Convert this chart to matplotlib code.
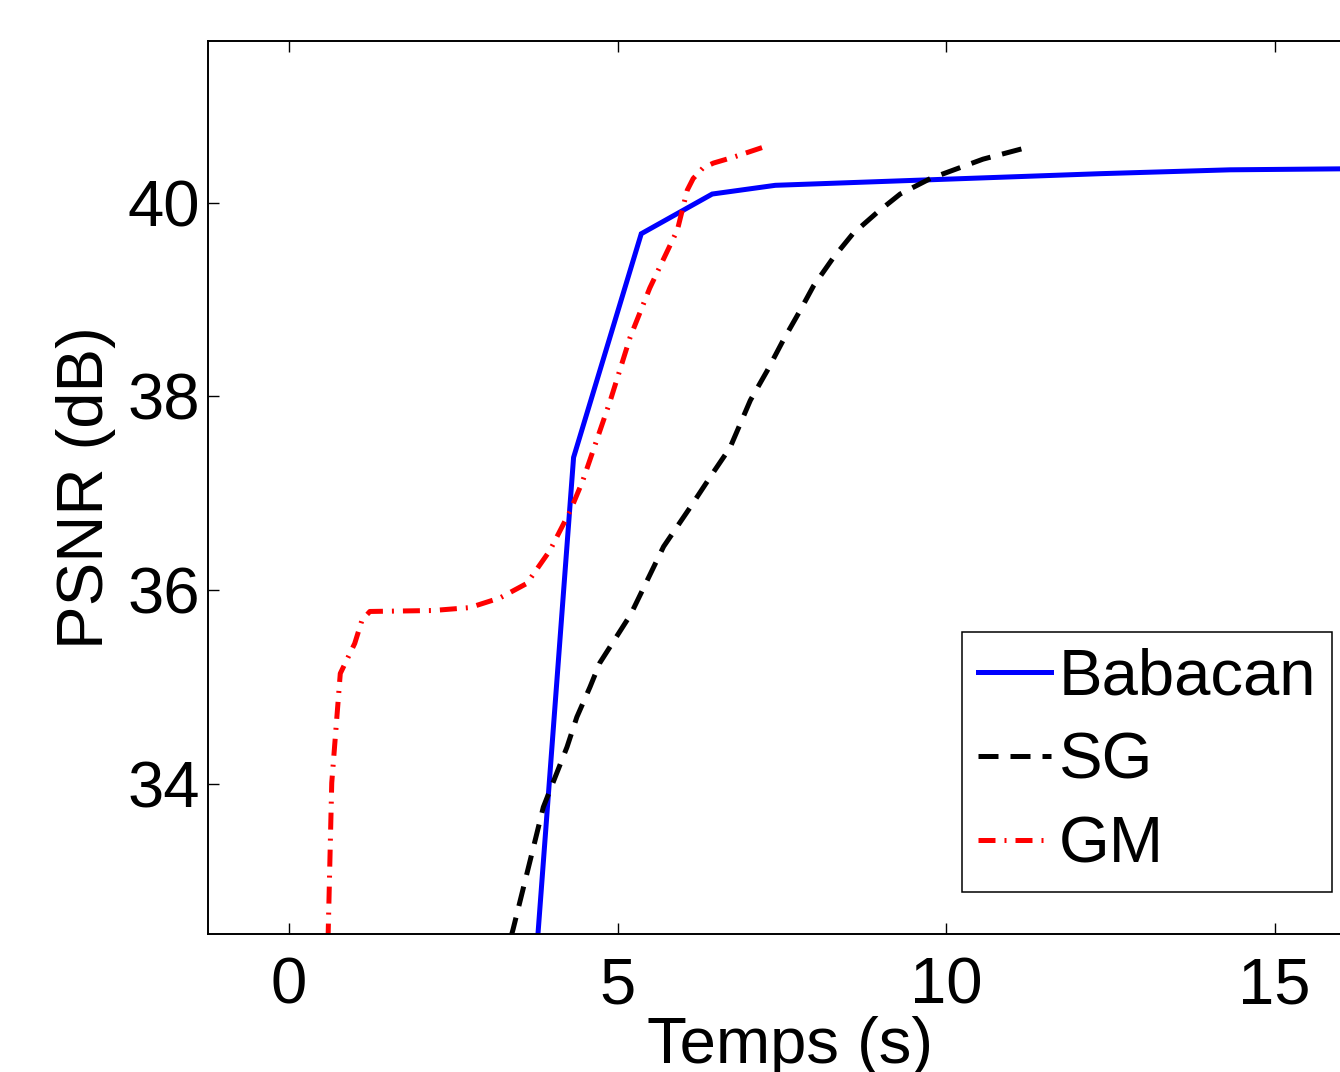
"""PSNR vs. time for Babacan, SG and GM reconstructions."""

import matplotlib

matplotlib.use("Agg")
import matplotlib.pyplot as plt

# Babacan (solid blue)
babacan_t = [3.72, 4.33, 5.36, 6.44, 7.40, 12.34, 14.32, 16.0, 16.5]
babacan_psnr = [31.83, 37.37, 39.68, 40.09, 40.18, 40.30, 40.34, 40.35, 40.36]

# SG (dashed black)
sg_t = [3.25, 3.41, 3.71, 3.87, 4.05, 4.23, 4.38, 4.58, 4.73, 5.20, 5.70,
        6.10, 6.45, 6.71, 7.02, 7.28, 7.52, 7.78, 7.98, 8.28, 8.58, 8.95,
        9.30, 9.76, 10.56, 11.17]
sg_psnr = [32.10, 32.50, 33.32, 33.76, 34.07, 34.38, 34.69, 35.00, 35.25,
           35.75, 36.45, 36.85, 37.21, 37.47, 37.96, 38.27, 38.58, 38.89,
           39.14, 39.43, 39.68, 39.90, 40.09, 40.25, 40.45, 40.56]

# GM (dash-dot red)
gm_t = [0.58, 0.65, 0.78, 1.00, 1.11, 1.23, 2.19, 2.75, 3.21, 3.62, 3.97,
        4.28, 4.47, 4.89, 5.19, 5.49, 5.91, 6.06, 6.15, 6.30, 6.46, 6.76, 7.20]
gm_psnr = [32.00, 34.01, 35.14, 35.45, 35.69, 35.78, 35.79, 35.82, 35.92,
           36.07, 36.41, 36.82, 37.13, 37.96, 38.61, 39.12, 39.72, 40.13,
           40.25, 40.36, 40.41, 40.47, 40.57]

x_ticks = [0, 5, 10, 15]
y_ticks = [34, 36, 38, 40]

plt.rcParams["font.family"] = ["Liberation Sans", "DejaVu Sans"]
plt.rcParams["font.size"] = 47

W, H = 1340, 1072
fig = plt.figure(figsize=(W / 100, H / 100), dpi=100)
# axes runs past the right edge of the figure, like the cropped original
left, right, top, bottom = 208, 1372, 41, 934
ax = fig.add_axes([left / W, 1 - bottom / H, (right - left) / W, (bottom - top) / H])

lw = 3.6
ax.plot(babacan_t, babacan_psnr, color="#0000ff", linewidth=lw,
        label="Babacan", solid_joinstyle="miter")
ax.plot(sg_t, sg_psnr, color="black", linewidth=lw, linestyle=(0, (4.0, 2.4)),
        label="SG")
ax.plot(gm_t, gm_psnr, color="#ff0000", linewidth=lw,
        linestyle=(0, (3.4, 1.8, 0.4, 1.8)), label="GM")

ax.set_xticks(x_ticks)
ax.set_yticks(y_ticks)
ax.set_xlim(-1.233, 16.48)
ax.set_ylim(32.45, 41.67)
ax.tick_params(direction="in", length=8, width=1, top=True, right=True,
               labelsize=47)
ax.tick_params(axis="x", pad=16)
ax.tick_params(axis="y", pad=6)
for spine in ax.spines.values():
    spine.set_linewidth(1.4)

ax.set_xlabel("Temps (s)")
ax.xaxis.set_label_coords(0.5, -0.0918)
ax.set_ylabel("PSNR (dB)")
ax.yaxis.set_label_coords(-0.079, 0.5)

leg = ax.legend(loc="upper left", bbox_to_anchor=(962 / W, 1 - 632 / H),
                bbox_transform=fig.transFigure, borderaxespad=0,
                fontsize=47, fancybox=False, framealpha=1, edgecolor="black",
                borderpad=0.24, labelspacing=0.37, handlelength=1.12,
                handletextpad=0.12)
leg.get_frame().set_linewidth(1.1)

fig.savefig("out.png", dpi=100)
